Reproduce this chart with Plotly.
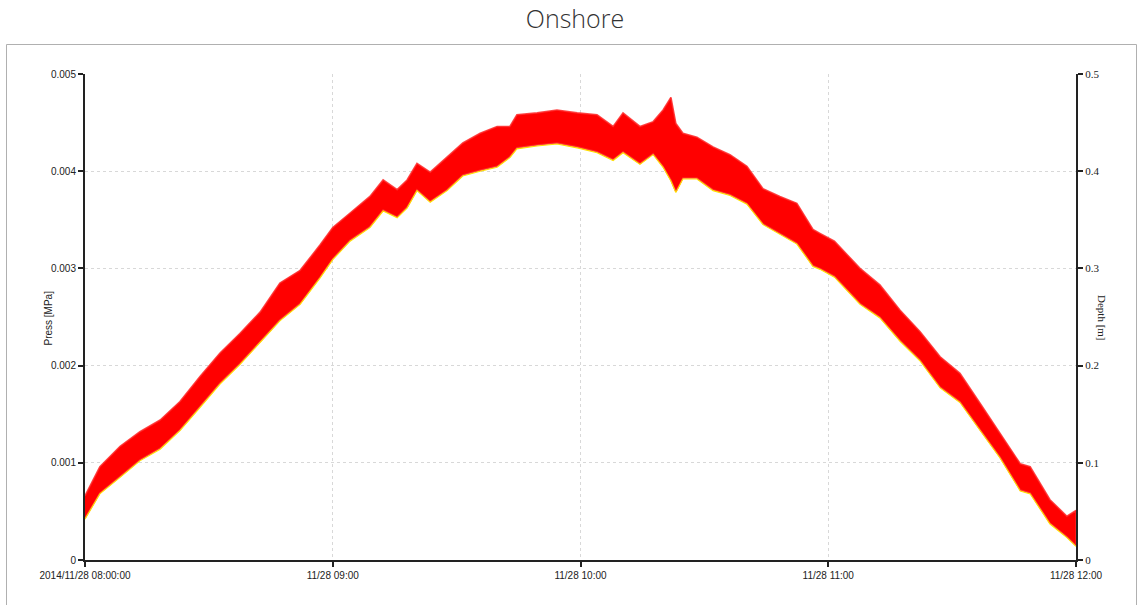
import plotly.graph_objects as go

# ---- data (envelope of the noisy record) ----
times = ["08:00:00", "08:03:36", "08:08:30", "08:13:18", "08:18:12", "08:23:00", "08:27:54",
         "08:32:42", "08:37:30", "08:42:24", "08:47:12", "08:52:06", "08:56:54", "09:00:00",
         "09:04:12", "09:09:00", "09:12:12", "09:15:36", "09:18:00", "09:20:24", "09:23:36",
         "09:27:42", "09:31:30", "09:35:42", "09:39:48", "09:42:54", "09:44:36", "09:49:30",
         "09:54:18", "09:59:12", "10:04:00", "10:07:54", "10:10:18", "10:14:24", "10:17:36",
         "10:20:00", "10:21:54", "10:23:06", "10:24:48", "10:28:12", "10:32:06", "10:36:12",
         "10:40:18", "10:44:12", "10:48:18", "10:52:24", "10:56:18", "10:58:00", "11:01:30",
         "11:07:42", "11:12:30", "11:17:24", "11:22:12", "11:27:06", "11:31:54", "11:36:48",
         "11:41:36", "11:46:30", "11:48:54", "11:53:42", "11:57:48", "12:00:00"]

press_high = [0.00066, 0.00096, 0.00117, 0.00132, 0.00144, 0.00163, 0.00189, 0.00213, 0.00233,
              0.00255, 0.00285, 0.00298, 0.00324, 0.00342, 0.00357, 0.00374, 0.00391, 0.00381,
              0.00391, 0.00408, 0.00399, 0.00415, 0.00429, 0.00439, 0.00446, 0.00446, 0.00458,
              0.00460, 0.00463, 0.00460, 0.00458, 0.00446, 0.00460, 0.00446, 0.00451, 0.00463,
              0.00476, 0.00449, 0.00439, 0.00435, 0.00425, 0.00417, 0.00405, 0.00382, 0.00374,
              0.00367, 0.00340, 0.00336, 0.00328, 0.00300, 0.00283, 0.00257, 0.00235, 0.00209,
              0.00192, 0.00161, 0.00130, 0.00099, 0.00096, 0.00062, 0.00045, 0.00051]

press_low = [0.00043, 0.00069, 0.00086, 0.00103, 0.00115, 0.00134, 0.00158, 0.00182, 0.00202,
             0.00225, 0.00247, 0.00264, 0.00291, 0.00310, 0.00329, 0.00343, 0.00360, 0.00353,
             0.00363, 0.00381, 0.00369, 0.00381, 0.00396, 0.00401, 0.00405, 0.00415, 0.00424,
             0.00427, 0.00429, 0.00425, 0.00420, 0.00412, 0.00420, 0.00408, 0.00418, 0.00405,
             0.00391, 0.00379, 0.00393, 0.00393, 0.00381, 0.00376, 0.00367, 0.00346, 0.00336,
             0.00326, 0.00303, 0.00300, 0.00292, 0.00264, 0.00250, 0.00226, 0.00206, 0.00178,
             0.00163, 0.00134, 0.00106, 0.00072, 0.00069, 0.00038, 0.00024, 0.00015]

depth_low = [0.042, 0.068, 0.085, 0.102, 0.114, 0.133, 0.157, 0.181, 0.201, 0.224, 0.246, 0.263,
             0.290, 0.309, 0.328, 0.342, 0.359, 0.352, 0.362, 0.380, 0.368, 0.380, 0.395, 0.400,
             0.404, 0.414, 0.423, 0.426, 0.428, 0.424, 0.419, 0.411, 0.419, 0.407, 0.417, 0.404,
             0.390, 0.378, 0.392, 0.392, 0.380, 0.375, 0.366, 0.345, 0.335, 0.325, 0.302, 0.299,
             0.291, 0.263, 0.249, 0.225, 0.205, 0.177, 0.162, 0.133, 0.105, 0.071, 0.068, 0.037,
             0.023, 0.014]

x_tickvals = ["2014-11-28 08:00", "2014-11-28 09:00", "2014-11-28 10:00",
              "2014-11-28 11:00", "2014-11-28 12:00"]
x_ticktext = ["2014/11/28 08:00:00", "11/28 09:00", "11/28 10:00", "11/28 11:00", "11/28 12:00"]
y_ticks = [0, 0.001, 0.002, 0.003, 0.004, 0.005]
y_ticktext = ["0", "0.001", "0.002", "0.003", "0.004", "0.005"]
y2_ticks = [0, 0.1, 0.2, 0.3, 0.4, 0.5]
y2_ticktext = ["0", "0.1", "0.2", "0.3", "0.4", "0.5"]

x_full = ["2014-11-28 " + t for t in times]

fig = go.Figure()

# Depth series (yellow), just under the pressure band
fig.add_trace(go.Scatter(x=x_full, y=depth_low, yaxis="y2", mode="lines",
                         line=dict(color="#ffe000", width=1.1), hoverinfo="skip",
                         showlegend=False))

# Pressure band (red)
fig.add_trace(go.Scatter(x=x_full + x_full[::-1], y=press_high + press_low[::-1],
                         mode="lines", fill="toself", fillcolor="#ff0000",
                         line=dict(color="rgba(255,40,40,0.85)", width=1.6),
                         hoverinfo="skip", showlegend=False))

W, H = 1138, 605
L, R, T, B = 85, 1076, 74, 560
pw, ph = R - L, B - T

def px(xp):
    return (xp - L) / pw

def py(yp):
    return (B - yp) / ph

tick_font = dict(family="Liberation Sans Narrow, Liberation Sans, Arial", size=10, color="#222")

fig.update_layout(
    width=W, height=H,
    margin=dict(l=L, r=W - R, t=T, b=H - B, pad=0),
    paper_bgcolor="white", plot_bgcolor="white",
    title=dict(text="Onshore", x=575 / W, xanchor="center", y=1 - 19 / H,
               yanchor="middle",
               font=dict(family="Open Sans", size=25, color="#333", weight=300)),
    xaxis=dict(type="date", range=["2014-11-28 08:00", "2014-11-28 12:00"],
               tickvals=x_tickvals, ticktext=x_ticktext, tickfont=tick_font,
               showline=True, linecolor="#222", linewidth=2, ticks="outside",
               ticklen=5, tickwidth=2, tickcolor="#222",
               showgrid=True, gridcolor="#d8d8d8", griddash="dot", gridwidth=1,
               zeroline=False),
    yaxis=dict(range=[0, 0.005], tickvals=y_ticks, ticktext=y_ticktext, tickfont=tick_font,
               showline=True, linecolor="#222", linewidth=2, ticks="outside",
               ticklen=5, tickwidth=2, tickcolor="#222",
               showgrid=True, gridcolor="#d8d8d8", griddash="dot", gridwidth=1,
               zeroline=False),
    yaxis2=dict(range=[0, 0.5], overlaying="y", side="right", anchor="x",
                tickvals=y2_ticks, ticktext=y2_ticktext,
                tickfont=dict(family="Liberation Serif, Times New Roman", size=11, color="#222"),
                showline=True, linecolor="#222", linewidth=2, ticks="outside",
                ticklen=5, tickwidth=2, tickcolor="#222",
                showgrid=False, zeroline=False),
    shapes=[dict(type="rect", xref="paper", yref="paper",
                 x0=px(6.5), x1=px(1136.5), y0=py(650), y1=py(44.5),
                 line=dict(color="#b0b0b0", width=1), fillcolor="rgba(0,0,0,0)",
                 layer="below")],
    annotations=[
        dict(text="Press [MPa]", xref="paper", yref="paper", x=px(40), y=py(318),
             textangle=-90, showarrow=False,
             font=dict(family="Liberation Sans Narrow, Liberation Sans, Arial", size=10,
                       color="#222")),
        dict(text="Depth [m]", xref="paper", yref="paper", x=px(1110), y=py(318),
             textangle=90, showarrow=False,
             font=dict(family="Liberation Serif, Times New Roman", size=11, color="#222")),
    ],
)

fig.write_html("out.html", config={"displayModeBar": False},
               post_script="document.body.style.margin='0px';document.body.style.overflow='hidden';")
